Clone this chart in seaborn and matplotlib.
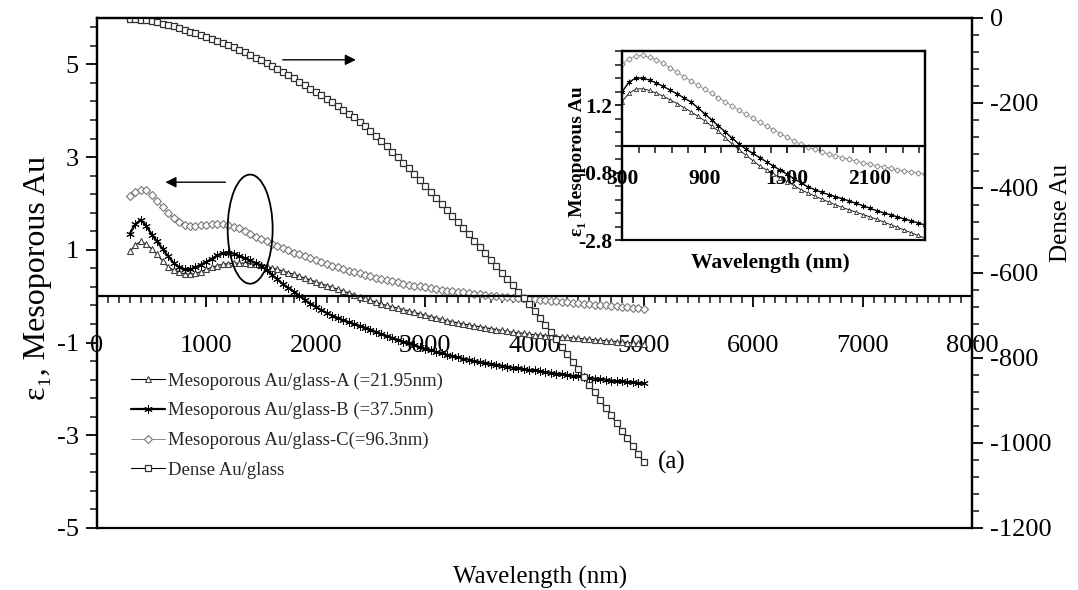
import numpy as np
import matplotlib
matplotlib.use("Agg")
import matplotlib.pyplot as plt
import seaborn as sns
from matplotlib.ticker import MultipleLocator
from matplotlib.patches import Ellipse, Rectangle

# ---------------- data ----------------
wavelength = np.arange(300, 5001, 50)          # nm

eps_A = [0.97, 1.10, 1.18, 1.12, 1.02, 0.90, 0.76, 0.64, 0.56, 0.52,
         0.48, 0.47, 0.49, 0.53, 0.58, 0.62, 0.66, 0.69, 0.70, 0.71,
         0.71, 0.71, 0.70, 0.69, 0.68, 0.65, 0.61, 0.58, 0.54, 0.51,
         0.47, 0.43, 0.39, 0.35, 0.31, 0.27, 0.23, 0.19, 0.15, 0.11,
         0.07, 0.03, -0.01, -0.05, -0.09, -0.13, -0.17, -0.20, -0.23, -0.26,
         -0.29, -0.32, -0.35, -0.38, -0.41, -0.44, -0.47, -0.50, -0.53, -0.55,
         -0.58, -0.60, -0.62, -0.64, -0.66, -0.68, -0.70, -0.72, -0.74, -0.76,
         -0.78, -0.79, -0.80, -0.82, -0.83, -0.84, -0.85, -0.86, -0.87, -0.88,
         -0.89, -0.90, -0.91, -0.92, -0.93, -0.94, -0.95, -0.96, -0.97, -0.98,
         -0.99, -1.00, -1.01, -1.02, -1.03]

eps_B = [1.35, 1.55, 1.65, 1.52, 1.33, 1.18, 1.02, 0.86, 0.72, 0.62,
         0.58, 0.58, 0.62, 0.68, 0.74, 0.81, 0.88, 0.93, 0.94, 0.92,
         0.87, 0.82, 0.77, 0.72, 0.66, 0.56, 0.46, 0.36, 0.26, 0.18,
         0.10, 0.01, -0.08, -0.16, -0.23, -0.30, -0.36, -0.42, -0.47, -0.52,
         -0.56, -0.60, -0.64, -0.68, -0.72, -0.77, -0.82, -0.86, -0.90, -0.94,
         -0.98, -1.02, -1.06, -1.10, -1.13, -1.16, -1.20, -1.23, -1.26, -1.29,
         -1.32, -1.35, -1.37, -1.40, -1.42, -1.44, -1.46, -1.48, -1.50, -1.52,
         -1.54, -1.55, -1.57, -1.59, -1.60, -1.62, -1.64, -1.65, -1.67, -1.68,
         -1.70, -1.72, -1.73, -1.75, -1.76, -1.78, -1.79, -1.80, -1.82, -1.83,
         -1.84, -1.85, -1.86, -1.87, -1.88]

eps_C = [2.17, 2.25, 2.30, 2.28, 2.18, 2.05, 1.92, 1.80, 1.68, 1.60,
         1.54, 1.52, 1.52, 1.53, 1.54, 1.55, 1.55, 1.55, 1.54, 1.50,
         1.46, 1.40, 1.34, 1.28, 1.23, 1.18, 1.13, 1.08, 1.03, 0.99,
         0.94, 0.90, 0.86, 0.82, 0.78, 0.74, 0.70, 0.66, 0.62, 0.59,
         0.55, 0.52, 0.49, 0.46, 0.43, 0.40, 0.37, 0.34, 0.32, 0.30,
         0.27, 0.25, 0.23, 0.21, 0.19, 0.17, 0.15, 0.14, 0.12, 0.11,
         0.09, 0.08, 0.06, 0.05, 0.04, 0.03, 0.01, 0.00, -0.01, -0.02,
         -0.03, -0.04, -0.05, -0.06, -0.07, -0.08, -0.09, -0.10, -0.11, -0.12,
         -0.13, -0.14, -0.15, -0.16, -0.17, -0.18, -0.19, -0.20, -0.21, -0.22,
         -0.23, -0.24, -0.25, -0.26, -0.27]

eps_dense = [-2, -3, -4, -5, -7, -10, -13, -16, -20, -24,
             -28, -32, -36, -41, -45, -50, -54, -59, -64, -69,
             -75, -81, -87, -93, -99, -106, -113, -120, -127, -134,
             -142, -150, -158, -166, -174, -182, -190, -198, -207, -216,
             -225, -234, -244, -255, -266, -278, -290, -302, -315, -328,
             -341, -354, -368, -382, -396, -410, -424, -438, -452, -466,
             -480, -494, -509, -524, -539, -554, -569, -584, -599, -614,
             -629, -644, -659, -674, -690, -706, -722, -739, -756, -773,
             -791, -809, -827, -845, -863, -881, -899, -917, -935, -953,
             -971, -989, -1008, -1027, -1045]

inset_wavelength = np.arange(300, 2501, 50)

inset_A = [1.31, 1.55, 1.68, 1.69, 1.64, 1.56, 1.47, 1.36, 1.25, 1.13,
           1.01, 0.88, 0.74, 0.59, 0.43, 0.24, 0.05, -0.12, -0.28, -0.44,
           -0.60, -0.72, -0.84, -0.96, -1.07, -1.18, -1.31, -1.40, -1.49, -1.58,
           -1.67, -1.75, -1.83, -1.90, -1.97, -2.04, -2.11, -2.18, -2.26, -2.34,
           -2.42, -2.50, -2.58, -2.66, -2.74]

inset_B = [1.60, 1.88, 2.01, 2.00, 1.95, 1.86, 1.76, 1.65, 1.54, 1.42,
           1.30, 1.13, 0.95, 0.77, 0.59, 0.41, 0.22, 0.05, -0.10, -0.23,
           -0.35, -0.48, -0.60, -0.73, -0.85, -0.98, -1.10, -1.22, -1.30, -1.38,
           -1.45, -1.51, -1.57, -1.64, -1.71, -1.78, -1.85, -1.93, -1.99, -2.05,
           -2.11, -2.17, -2.23, -2.29, -2.35]

inset_C = [2.42, 2.58, 2.66, 2.68, 2.62, 2.55, 2.44, 2.31, 2.18, 2.05,
           1.92, 1.80, 1.67, 1.55, 1.42, 1.30, 1.18, 1.05, 0.93, 0.81,
           0.69, 0.58, 0.47, 0.36, 0.25, 0.14, 0.04, -0.04, -0.11, -0.18,
           -0.24, -0.30, -0.35, -0.40, -0.45, -0.50, -0.55, -0.59, -0.63, -0.67,
           -0.71, -0.74, -0.77, -0.80, -0.83]

labels = ["Mesoporous Au/glass-A (=21.95nm)",
          "Mesoporous Au/glass-B (=37.5nm)",
          "Mesoporous Au/glass-C(=96.3nm)",
          "Dense Au/glass"]

for arr in (eps_A, eps_B, eps_C, eps_dense):
    assert len(arr) == len(wavelength), len(arr)
for arr in (inset_A, inset_B, inset_C):
    assert len(arr) == len(inset_wavelength), len(arr)

# ---------------- style ----------------
sns.set_theme(style="ticks")
plt.rcParams["font.family"] = ["Liberation Serif", "DejaVu Serif"]
plt.rcParams["axes.unicode_minus"] = False

asterisk = (6, 2, 0)
styles = [
    dict(marker="^", markersize=5, markerfacecolor="white", markeredgecolor="#404040",
         markeredgewidth=0.8, color="black", linewidth=0.8),
    dict(marker=asterisk, markersize=6, markerfacecolor="black", markeredgecolor="black",
         markeredgewidth=0.7, color="black", linewidth=1.6),
    dict(marker="D", markersize=4, markerfacecolor="white", markeredgecolor="#777777",
         markeredgewidth=0.8, color="#777777", linewidth=0.6),
    dict(marker="s", markersize=5, markerfacecolor="white", markeredgecolor="#303030",
         markeredgewidth=0.9, color="black", linewidth=0.8),
]

fig = plt.figure(figsize=(10.78, 5.90), dpi=100)
ax = fig.add_axes([0.090, 0.1051, 0.8117, 0.8644])
ax2 = ax.twinx()

for y, lab, st in zip((eps_A, eps_B, eps_C), labels[:3], styles[:3]):
    sns.lineplot(x=wavelength, y=y, ax=ax, label=lab, estimator=None, sort=False, **st)
sns.lineplot(x=wavelength, y=eps_dense, ax=ax2, label=labels[3], estimator=None, sort=False,
             **styles[3])

ax.set_xlim(0, 8000)
ax.set_ylim(-5, 6)
ax2.set_ylim(-1200, 0)

# spines / frame
for a in (ax, ax2):
    for s in a.spines.values():
        s.set_linewidth(1.6)
        s.set_color("black")
ax.spines["bottom"].set_position(("data", 0))

# ticks
ax.xaxis.set_major_locator(MultipleLocator(1000))
ax.xaxis.set_minor_locator(MultipleLocator(100))
ax.yaxis.set_major_locator(MultipleLocator(2, offset=1))
ax.yaxis.set_minor_locator(MultipleLocator(0.4, offset=0.2))
ax2.yaxis.set_major_locator(MultipleLocator(200))
ax2.yaxis.set_minor_locator(MultipleLocator(40))

TICK_FS = 19
ax.tick_params(axis="x", which="major", direction="out", length=8, width=1.3,
               pad=20, labelsize=TICK_FS, colors="black")
ax.tick_params(axis="x", which="minor", direction="out", length=5, width=1.2)
ax.tick_params(axis="y", which="major", direction="out", length=8, width=1.3,
               pad=5, labelsize=TICK_FS, colors="black")
ax.tick_params(axis="y", which="minor", direction="out", length=5, width=1.2)
ax2.tick_params(axis="y", which="major", direction="out", length=8, width=1.3,
                pad=5, labelsize=TICK_FS, colors="black")
ax2.tick_params(axis="y", which="minor", direction="out", length=5, width=1.2)

ax.set_xlabel("Wavelength (nm)", fontsize=18, color="black")
ax.xaxis.set_label_coords(0.506, -0.074)
ax.set_ylabel("ε₁, Mesoporous Au", fontsize=23, color="black")
ax.yaxis.set_label_coords(-0.052, 0.49)
ax2.set_ylabel("Dense Au", fontsize=18, color="black")
ax2.yaxis.set_label_coords(1.089, 0.618)

# legend (combined)
h1, l1 = ax.get_legend_handles_labels()
h2, l2 = ax2.get_legend_handles_labels()
ax.get_legend().remove()
ax2.get_legend().remove()
leg = ax2.legend(h1 + h2, l1 + l2, loc="upper left", bbox_to_anchor=(0.030, 0.320),
                 frameon=False, fontsize=13.5, handlelength=1.8, handletextpad=0.2,
                 labelspacing=0.67, borderaxespad=0)

# annotations
ax2.annotate("", xy=(0.299, 0.918), xytext=(0.209, 0.918), xycoords="axes fraction",
             arrowprops=dict(arrowstyle="-|>", color="black", lw=1.0, mutation_scale=16))
ax2.annotate("", xy=(0.075, 0.678), xytext=(0.150, 0.678), xycoords="axes fraction",
             arrowprops=dict(arrowstyle="-|>", color="black", lw=1.0, mutation_scale=16))
ax2.add_patch(Ellipse((0.175, 0.586), 0.0514, 0.214, transform=ax2.transAxes,
                      fill=False, edgecolor="black", linewidth=1.3))
ax2.text(0.657, 0.129, "(a)", transform=ax2.transAxes, fontsize=18, ha="center",
         va="center", color="black")

# ---------------- inset ----------------
ins = fig.add_axes([0.577, 0.593, 0.281, 0.320])
ins.set_zorder(5)
ins.set_facecolor("white")
inset_styles = [
    dict(marker="^", markersize=3, markerfacecolor="white", markeredgecolor="#303030",
         markeredgewidth=0.6, color="black", linewidth=0.6),
    dict(marker=asterisk, markersize=4, markerfacecolor="black", markeredgecolor="black",
         markeredgewidth=0.6, color="black", linewidth=1.0),
    dict(marker="D", markersize=2.8, markerfacecolor="white", markeredgecolor="#777777",
         markeredgewidth=0.6, color="#777777", linewidth=0.5),
]
for y, st in zip((inset_A, inset_B, inset_C), inset_styles):
    sns.lineplot(x=inset_wavelength, y=y, ax=ins, estimator=None, sort=False,
                 legend=False, **st)
ins.set_xlim(300, 2500)
ins.set_ylim(-2.8, 2.8)
for s in ins.spines.values():
    s.set_linewidth(1.6)
    s.set_color("black")
ins.spines["bottom"].set_position(("data", 0))
ins.add_patch(Rectangle((0, 0), 1, 1, transform=ins.transAxes, fill=False,
                        edgecolor="black", linewidth=1.6, clip_on=False))
ins.xaxis.set_major_locator(MultipleLocator(600, offset=300))
ins.xaxis.set_minor_locator(MultipleLocator(120, offset=60))
ins.yaxis.set_major_locator(MultipleLocator(2, offset=1.2))
ins.yaxis.set_minor_locator(MultipleLocator(0.4))
ins.tick_params(axis="x", which="major", direction="out", length=5, width=1.2,
                pad=12, labelsize=15.5, colors="black")
ins.tick_params(axis="x", which="minor", direction="out", length=5, width=1.2)
ins.tick_params(axis="y", which="major", direction="out", length=5, width=1.2,
                pad=2, labelsize=15.5, colors="black")
ins.tick_params(axis="y", which="minor", direction="out", length=5, width=1.2)
for t in ins.get_xticklabels() + ins.get_yticklabels():
    t.set_fontweight("bold")
ins.set_xlabel("Wavelength (nm)", fontsize=15.5, fontweight="bold", color="black")
ins.xaxis.set_label_coords(0.49, -0.07)
ins.set_ylabel("ε₁ Mesoporous Au", fontsize=14, fontweight="bold", color="black")
ins.yaxis.set_label_coords(-0.118, 0.42)

fig.savefig("out.png", dpi=100, facecolor="white")
